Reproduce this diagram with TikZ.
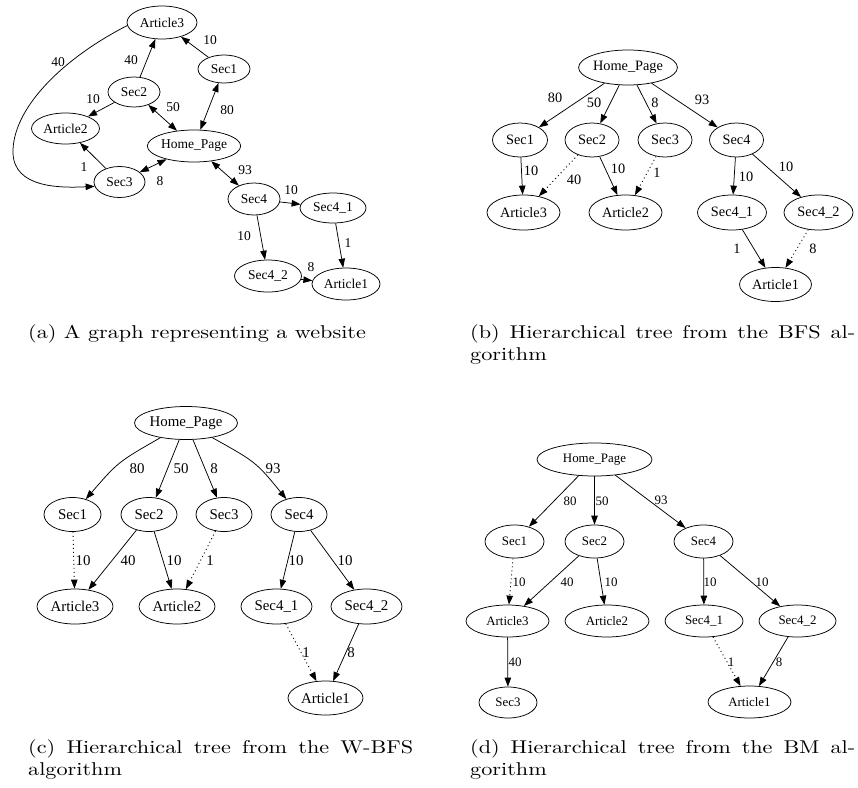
\documentclass[tikz,border=0pt]{standalone}
\usepackage{fontspec}
\usetikzlibrary{shapes.geometric,arrows.meta}
\newfontfamily\gv{Liberation Serif}
\newfontfamily\capfont[FakeStretch=1.2]{lmroman10-regular.otf}
\tikzset{
  gnode/.style={draw, ellipse, inner sep=0pt, line width=0.75pt},
  fa/.style={font=\gv\fontsize{13.5}{15}\selectfont},
  fb/.style={font=\gv\fontsize{14.3}{16}\selectfont},
  fc/.style={font=\gv\fontsize{14.9}{16}\selectfont},
  fd/.style={font=\gv\fontsize{12.9}{14}\selectfont},
  >={Triangle[length=9pt,width=6.5pt]},
  edg/.style={->, line width=0.75pt},
  dbl/.style={<->, line width=0.75pt},
  dotedge/.style={->, line width=0.9pt, dash pattern=on 1pt off 3pt},
  lbl/.style={inner sep=0pt},
  captext/.style={font=\capfont\fontsize{18.5}{22.5}\selectfont, text width=385pt, align=justify, inner sep=0pt, anchor=north west},
}
\begin{document}
\begin{tikzpicture}[x=1pt,y=-1pt]
\useasboundingbox (0,0) rectangle (858,787);

% ---------------- (a) ----------------
\node[gnode,fa,minimum width=70pt,minimum height=33pt] (aA3) at (162,22.5) {Article3};
\node[gnode,fa,minimum width=52pt,minimum height=28pt] (aS1) at (224,69) {Sec1};
\node[gnode,fa,minimum width=52pt,minimum height=30pt] (aS2) at (134,92) {Sec2};
\node[gnode,fa,minimum width=68pt,minimum height=31pt] (aA2) at (65.5,128.5) {Article2};
\node[gnode,fa,minimum width=92pt,minimum height=32pt] (aHP) at (194,146) {Home\_Page};
\node[gnode,fa,minimum width=51pt,minimum height=31pt] (aS3) at (119.5,182) {Sec3};
\node[gnode,fa,minimum width=52pt,minimum height=32pt] (aS4) at (254,199) {Sec4};
\node[gnode,fa,minimum width=66pt,minimum height=30pt] (aS41) at (333,208) {Sec4\_1};
\node[gnode,fa,minimum width=67pt,minimum height=32pt] (aS42) at (268,276) {Sec4\_2};
\node[gnode,fa,minimum width=68pt,minimum height=32pt] (aA1) at (346,284) {Article1};

\draw[edg] (aS1) -- (aA3);
\draw[edg] (aS2) -- (aA3);
\draw[edg] (aA3.185) .. controls (60,60) and (12,110) .. (13,153) .. controls (14,188) and (60,188) .. (aS3.190);
\draw[edg] (aS2) -- (aA2);
\draw[dbl] (aS2) -- (aHP);
\draw[dbl] (aS1) -- (aHP);
\draw[edg] (aS3) -- (aA2);
\draw[dbl] (aHP) -- (aS3);
\draw[dbl] (aHP) -- (aS4);
\draw[edg] (aS4) -- (aS41);
\draw[edg] (aS4) -- (aS42);
\draw[edg] (aS41) -- (aA1);
\draw[edg] (aS42) -- (aA1);

\node[lbl,fa] (la1) at (210,40) {10};
\node[lbl,fa] (la2) at (131,60) {40};
\node[lbl,fa] (la3) at (58,62) {40};
\node[lbl,fa] (la4) at (93,99) {10};
\node[lbl,fa] (la5) at (173,107) {50};
\node[lbl,fa] (la6) at (227,110) {80};
\node[lbl,fa] (la7) at (84,167) {1};
\node[lbl,fa] (la8) at (160,181) {8};
\node[lbl,fa] (la9) at (245,170) {93};
\node[lbl,fa] (la10) at (291,190) {10};
\node[lbl,fa] (la11) at (244,236) {10};
\node[lbl,fa] (la12) at (348,243) {1};
\node[lbl,fa] (la13) at (311,267) {8};

% ---------------- (b) ----------------
\node[gnode,fb,minimum width=98pt,minimum height=35pt] (bHP) at (628,67.5) {Home\_Page};
\node[gnode,fb,minimum width=55pt,minimum height=34pt] (bS1) at (520,140) {Sec1};
\node[gnode,fb,minimum width=54pt,minimum height=34pt] (bS2) at (592,140) {Sec2};
\node[gnode,fb,minimum width=54pt,minimum height=34pt] (bS3) at (665,140) {Sec3};
\node[gnode,fb,minimum width=54pt,minimum height=34pt] (bS4) at (736.5,140) {Sec4};
\node[gnode,fb,minimum width=73pt,minimum height=35pt] (bA3) at (523.5,212.5) {Article3};
\node[gnode,fb,minimum width=73pt,minimum height=35pt] (bA2) at (625.5,212.5) {Article2};
\node[gnode,fb,minimum width=69pt,minimum height=35pt] (bS41) at (732,212.5) {Sec4\_1};
\node[gnode,fb,minimum width=69pt,minimum height=35pt] (bS42) at (818.5,212.5) {Sec4\_2};
\node[gnode,fb,minimum width=72pt,minimum height=34pt] (bA1) at (775.5,284.5) {Article1};

\draw[edg] (bHP) -- (bS1);
\draw[edg] (bHP) -- (bS2);
\draw[edg] (bHP) -- (bS3);
\draw[edg] (bHP) -- (bS4);
\draw[edg] (bS1) -- (bA3);
\draw[dotedge] (bS2) -- (bA3);
\draw[edg] (bS2) -- (bA2);
\draw[dotedge] (bS3) -- (bA2);
\draw[edg] (bS4) -- (bS41);
\draw[edg] (bS4) -- (bS42);
\draw[edg] (bS41) -- (bA1);
\draw[dotedge] (bS42) -- (bA1);

\node[lbl,fb] (lb1) at (555,98) {80};
\node[lbl,fb] (lb2) at (594,103) {50};
\node[lbl,fb] (lb3) at (655,103) {8};
\node[lbl,fb] (lb4) at (702,100) {93};
\node[lbl,fb] (lb5) at (531,171) {10};
\node[lbl,fb] (lb6) at (574,180) {40};
\node[lbl,fb] (lb7) at (618,169) {10};
\node[lbl,fb] (lb8) at (657,173) {1};
\node[lbl,fb] (lb9) at (746,177) {10};
\node[lbl,fb] (lb10) at (786,167) {10};
\node[lbl,fb] (lb11) at (737,249) {1};
\node[lbl,fb] (lb12) at (813,249) {8};

% ---------------- (c) ----------------
\node[gnode,fc,minimum width=102pt,minimum height=33pt] (cHP) at (186,423) {Home\_Page};
\node[gnode,fc,minimum width=57pt,minimum height=34pt] (cS1) at (72.5,514.5) {Sec1};
\node[gnode,fc,minimum width=56pt,minimum height=34pt] (cS2) at (149,514.5) {Sec2};
\node[gnode,fc,minimum width=56pt,minimum height=34pt] (cS3) at (224,514.5) {Sec3};
\node[gnode,fc,minimum width=56pt,minimum height=34pt] (cS4) at (299,514.5) {Sec4};
\node[gnode,fc,minimum width=76pt,minimum height=35pt] (cA3) at (75,606.5) {Article3};
\node[gnode,fc,minimum width=76pt,minimum height=35pt] (cA2) at (177,606.5) {Article2};
\node[gnode,fc,minimum width=71pt,minimum height=35pt] (cS41) at (276.5,606.5) {Sec4\_1};
\node[gnode,fc,minimum width=71pt,minimum height=35pt] (cS42) at (366.5,606.5) {Sec4\_2};
\node[gnode,fc,minimum width=75pt,minimum height=34pt] (cA1) at (325.5,698) {Article1};

\draw[edg] (cHP) .. controls (118,462) .. (cS1);
\draw[edg] (cHP) -- (cS2);
\draw[edg] (cHP) -- (cS3);
\draw[edg] (cHP) .. controls (256,462) .. (cS4);
\draw[dotedge] (cS1) -- (cA3);
\draw[edg] (cS2) -- (cA3);
\draw[edg] (cS2) -- (cA2);
\draw[dotedge] (cS3) -- (cA2);
\draw[edg] (cS4) -- (cS41);
\draw[edg] (cS4) -- (cS42);
\draw[dotedge] (cS41) -- (cA1);
\draw[edg] (cS42) -- (cA1);

\node[lbl,fc] (lc1) at (137,469) {80};
\node[lbl,fc] (lc2) at (181,469) {50};
\node[lbl,fc] (lc3) at (214,469) {8};
\node[lbl,fc] (lc4) at (273,469) {93};
\node[lbl,fc] (lc5) at (83,561) {10};
\node[lbl,fc] (lc6) at (128,561) {40};
\node[lbl,fc] (lc7) at (174,561) {10};
\node[lbl,fc] (lc8) at (210,561) {1};
\node[lbl,fc] (lc9) at (296,561) {10};
\node[lbl,fc] (lc10) at (345,561) {10};
\node[lbl,fc] (lc11) at (306,653) {1};
\node[lbl,fc] (lc12) at (351,653) {8};

% ---------------- (d) ----------------
\node[gnode,fd,minimum width=115pt,minimum height=33pt] (dHP) at (594.5,459.5) {Home\_Page};
\node[gnode,fd,minimum width=59pt,minimum height=33pt] (dS1) at (514.5,541.5) {Sec1};
\node[gnode,fd,minimum width=59pt,minimum height=33pt] (dS2) at (594.5,541.5) {Sec2};
\node[gnode,fd,minimum width=59pt,minimum height=33pt] (dS4) at (703.5,541.5) {Sec4};
\node[gnode,fd,minimum width=83pt,minimum height=32pt] (dA3) at (507.5,621) {Article3};
\node[gnode,fd,minimum width=84pt,minimum height=32pt] (dA2) at (607,621) {Article2};
\node[gnode,fd,minimum width=78pt,minimum height=32pt] (dS41) at (704,621) {Sec4\_1};
\node[gnode,fd,minimum width=77pt,minimum height=32pt] (dS42) at (797.5,621) {Sec4\_2};
\node[gnode,fd,minimum width=58pt,minimum height=31pt] (dS3) at (508,702.5) {Sec3};
\node[gnode,fd,minimum width=83pt,minimum height=32pt] (dA1) at (749.5,702) {Article1};

\draw[edg] (dHP) -- (dS1);
\draw[edg] (dHP) -- (dS2);
\draw[edg] (dHP) -- (dS4);
\draw[dotedge] (dS1) -- (dA3);
\draw[edg] (dS2) -- (dA3);
\draw[edg] (dS2) -- (dA2);
\draw[edg] (dS4) -- (dS41);
\draw[edg] (dS4) -- (dS42);
\draw[edg] (dA3) -- (dS3);
\draw[dotedge] (dS41) -- (dA1);
\draw[edg] (dS42) -- (dA1);

\node[lbl,fd] (ld1) at (570,501) {80};
\node[lbl,fd] (ld2) at (602,501) {50};
\node[lbl,fd] (ld3) at (661,500) {93};
\node[lbl,fd] (ld4) at (519,582) {10};
\node[lbl,fd] (ld5) at (567,582) {40};
\node[lbl,fd] (ld6) at (611,582) {10};
\node[lbl,fd] (ld7) at (710,582) {10};
\node[lbl,fd] (ld8) at (762,582) {10};
\node[lbl,fd] (ld9) at (515,662) {40};
\node[lbl,fd] (ld10) at (731,662) {1};
\node[lbl,fd] (ld11) at (779,662) {8};

% ---------------- captions ----------------
\node[captext] (capA) at (28,324) {(a) A graph representing a website};
\node[captext] (capB) at (470,324) {(b) Hierarchical tree from the BFS al-\linebreak gorithm};
\node[captext] (capC) at (28,739) {(c) Hierarchical tree from the W-BFS\linebreak algorithm};
\node[captext] (capD) at (470,739) {(d) Hierarchical tree from the BM al-\linebreak gorithm};
\end{tikzpicture}
\end{document}
